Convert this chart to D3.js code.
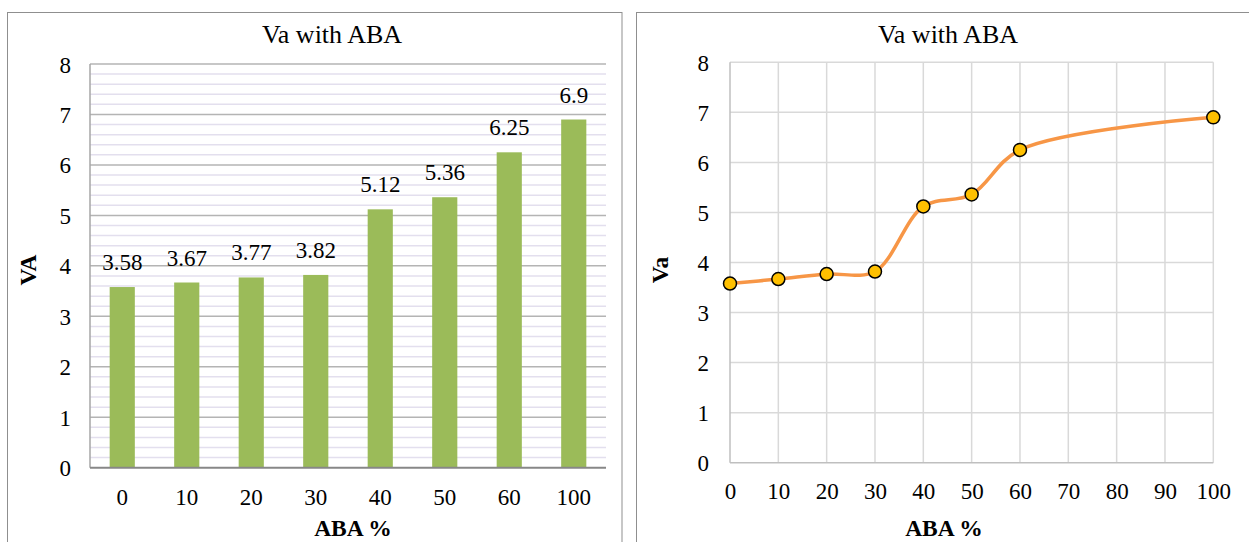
<!DOCTYPE html>
<html>
<head>
<meta charset="utf-8">
<script src="https://cdn.jsdelivr.net/npm/d3@7"></script>
<style>
  html, body { margin: 0; padding: 0; background: #fff; }
  svg { display: block; }
  svg text { font-family: 'Liberation Serif', 'DejaVu Serif', serif !important; fill: #000; }
</style>
</head>
<body>
<svg id="chart" width="1249" height="542" font-family="Liberation Serif"></svg>
<script>
// ---- data ----
const titleText = "Va with ABA";
const categories = ["0", "10", "20", "30", "40", "50", "60", "100"];
const abaPercent = [0, 10, 20, 30, 40, 50, 60, 100];
const vaValues = [3.58, 3.67, 3.77, 3.82, 5.12, 5.36, 6.25, 6.9];
const vaLabels = ["3.58", "3.67", "3.77", "3.82", "5.12", "5.36", "6.25", "6.9"];
const yTicks = [0, 1, 2, 3, 4, 5, 6, 7, 8];
const yMinorTicks = d3.range(0, 8.001, 0.2);
const xTicksRight = [0, 10, 20, 30, 40, 50, 60, 70, 80, 90, 100];
const xTitle = "ABA %";
const yTitleLeft = "VA";
const yTitleRight = "Va";

const FONT = "'Liberation Serif', 'DejaVu Serif', serif";
const svg = d3.select("#chart");

// ---- chart frames ----
svg.append("rect").attr("x", 7.5).attr("y", 12.5).attr("width", 614.5).attr("height", 560)
  .attr("fill", "#fff").attr("stroke", "#8f8f8f").attr("stroke-width", 1);
svg.append("rect").attr("x", 636.5).attr("y", 12.5).attr("width", 640).attr("height", 560)
  .attr("fill", "#fff").attr("stroke", "#8f8f8f").attr("stroke-width", 1);

// ================= LEFT: bar chart =================
const L = { left: 90, right: 606, top: 64, bottom: 467.7 };
const xL = d3.scaleBand().domain(categories).range([L.left, L.right])
  .paddingInner(0.61).paddingOuter(0.305);
const yL = d3.scaleLinear().domain([0, 8]).range([L.bottom, L.top]);

const gL = svg.append("g");
gL.append("g").selectAll("line").data(yMinorTicks.filter(v => Math.abs(v - Math.round(v)) > 1e-6))
  .join("line")
  .attr("x1", L.left).attr("x2", L.right)
  .attr("y1", d => yL(d)).attr("y2", d => yL(d))
  .attr("stroke", "#e3dfee").attr("stroke-width", 1.5);
gL.append("g").selectAll("line").data(yTicks.filter(v => v > 0))
  .join("line")
  .attr("x1", L.left).attr("x2", L.right)
  .attr("y1", d => yL(d)).attr("y2", d => yL(d))
  .attr("stroke", "#b4b4b4").attr("stroke-width", 1.5);
gL.append("line").attr("x1", L.left).attr("x2", L.left).attr("y1", L.top).attr("y2", L.bottom)
  .attr("stroke", "#a6a6a6").attr("stroke-width", 1.5);

gL.append("g").selectAll("rect").data(vaValues).join("rect")
  .attr("x", (d, i) => xL(categories[i]))
  .attr("width", xL.bandwidth())
  .attr("y", d => yL(d))
  .attr("height", d => yL(0) - yL(d))
  .attr("fill", "#9bbb59");

gL.append("line").attr("x1", L.left).attr("x2", L.right).attr("y1", L.bottom).attr("y2", L.bottom)
  .attr("stroke", "#878787").attr("stroke-width", 2);

gL.append("g").selectAll("text").data(vaValues).join("text")
  .attr("x", (d, i) => xL(categories[i]) + xL.bandwidth() / 2)
  .attr("y", d => yL(d) - 17)
  .attr("text-anchor", "middle")
  .attr("font-family", FONT)
  .style("font-size", "23px")
  .text((d, i) => vaLabels[i]);

const axL = gL.append("g").attr("transform", `translate(${L.left - 19},0)`)
  .call(d3.axisLeft(yL).tickValues(yTicks).tickSize(0).tickPadding(0).tickFormat(d3.format("d")));
axL.attr("font-family", FONT).attr("font-size", 23);
axL.select(".domain").remove();
axL.selectAll("text").attr("dy", "0.35em");

const axLB = gL.append("g").attr("transform", `translate(0,${L.bottom})`)
  .call(d3.axisBottom(xL).tickSize(0).tickPadding(0));
axLB.attr("font-family", FONT).attr("font-size", 23);
axLB.select(".domain").remove();
axLB.selectAll("text").attr("dy", null).attr("y", 37);

svg.append("text").attr("x", 332).attr("y", 43).attr("text-anchor", "middle")
  .attr("font-family", FONT).style("font-size", "26px").text(titleText);
svg.append("text").attr("x", 353).attr("y", 536).attr("text-anchor", "middle")
  .attr("font-family", FONT).style("font-size", "23.5px").style("font-weight", "bold").text(xTitle);
svg.append("text").attr("transform", "translate(36,270) rotate(-90)").attr("text-anchor", "middle")
  .attr("font-family", FONT).style("font-size", "23.5px").style("font-weight", "bold").text(yTitleLeft);

// ================= RIGHT: line chart =================
const R = { left: 730, right: 1213.3, top: 62.3, bottom: 462.7 };
const xR = d3.scaleLinear().domain([0, 100]).range([R.left, R.right]);
const yR = d3.scaleLinear().domain([0, 8]).range([R.bottom, R.top]);
const gR = svg.append("g");

gR.append("g").selectAll("line").data(yTicks.filter(v => v > 0)).join("line")
  .attr("x1", R.left).attr("x2", R.right)
  .attr("y1", d => yR(d)).attr("y2", d => yR(d))
  .attr("stroke", "#d9d9d9").attr("stroke-width", 1.5);
gR.append("g").selectAll("line").data(xTicksRight.filter(v => v > 0)).join("line")
  .attr("x1", d => xR(d)).attr("x2", d => xR(d))
  .attr("y1", R.top).attr("y2", R.bottom)
  .attr("stroke", "#d9d9d9").attr("stroke-width", 1.5);
gR.append("line").attr("x1", R.left).attr("x2", R.left).attr("y1", R.top).attr("y2", R.bottom)
  .attr("stroke", "#bfbfbf").attr("stroke-width", 1.5);
gR.append("line").attr("x1", R.left).attr("x2", R.right).attr("y1", R.bottom).attr("y2", R.bottom)
  .attr("stroke", "#bfbfbf").attr("stroke-width", 1.5);

const pts = abaPercent.map((x, i) => [x, vaValues[i]]);
const line = d3.line().x(d => xR(d[0])).y(d => yR(d[1])).curve(d3.curveCatmullRom.alpha(0.5));
gR.append("path").datum(pts).attr("d", line)
  .attr("fill", "none").attr("stroke", "#f79646").attr("stroke-width", 3.5);

gR.append("g").selectAll("circle").data(pts).join("circle")
  .attr("cx", d => xR(d[0])).attr("cy", d => yR(d[1])).attr("r", 6.5)
  .attr("fill", "#ffc000").attr("stroke", "#000").attr("stroke-width", 1.5);

const axR = gR.append("g").attr("transform", `translate(${R.left - 21},0)`)
  .call(d3.axisLeft(yR).tickValues(yTicks).tickSize(0).tickPadding(0).tickFormat(d3.format("d")));
axR.attr("font-family", FONT).attr("font-size", 23);
axR.select(".domain").remove();
axR.selectAll("text").attr("dy", "0.35em");

const axRB = gR.append("g").attr("transform", `translate(0,${R.bottom})`)
  .call(d3.axisBottom(xR).tickValues(xTicksRight).tickSize(0).tickPadding(0).tickFormat(d3.format("d")));
axRB.attr("font-family", FONT).attr("font-size", 23);
axRB.select(".domain").remove();
axRB.selectAll("text").attr("dy", null).attr("y", 36.5);

svg.append("text").attr("x", 948).attr("y", 43).attr("text-anchor", "middle")
  .attr("font-family", FONT).style("font-size", "26px").text(titleText);
svg.append("text").attr("x", 944).attr("y", 536).attr("text-anchor", "middle")
  .attr("font-family", FONT).style("font-size", "23.5px").style("font-weight", "bold").text(xTitle);
svg.append("text").attr("transform", "translate(668,270) rotate(-90)").attr("text-anchor", "middle")
  .attr("font-family", FONT).style("font-size", "23.5px").style("font-weight", "bold").text(yTitleRight);
</script>
</body>
</html>
